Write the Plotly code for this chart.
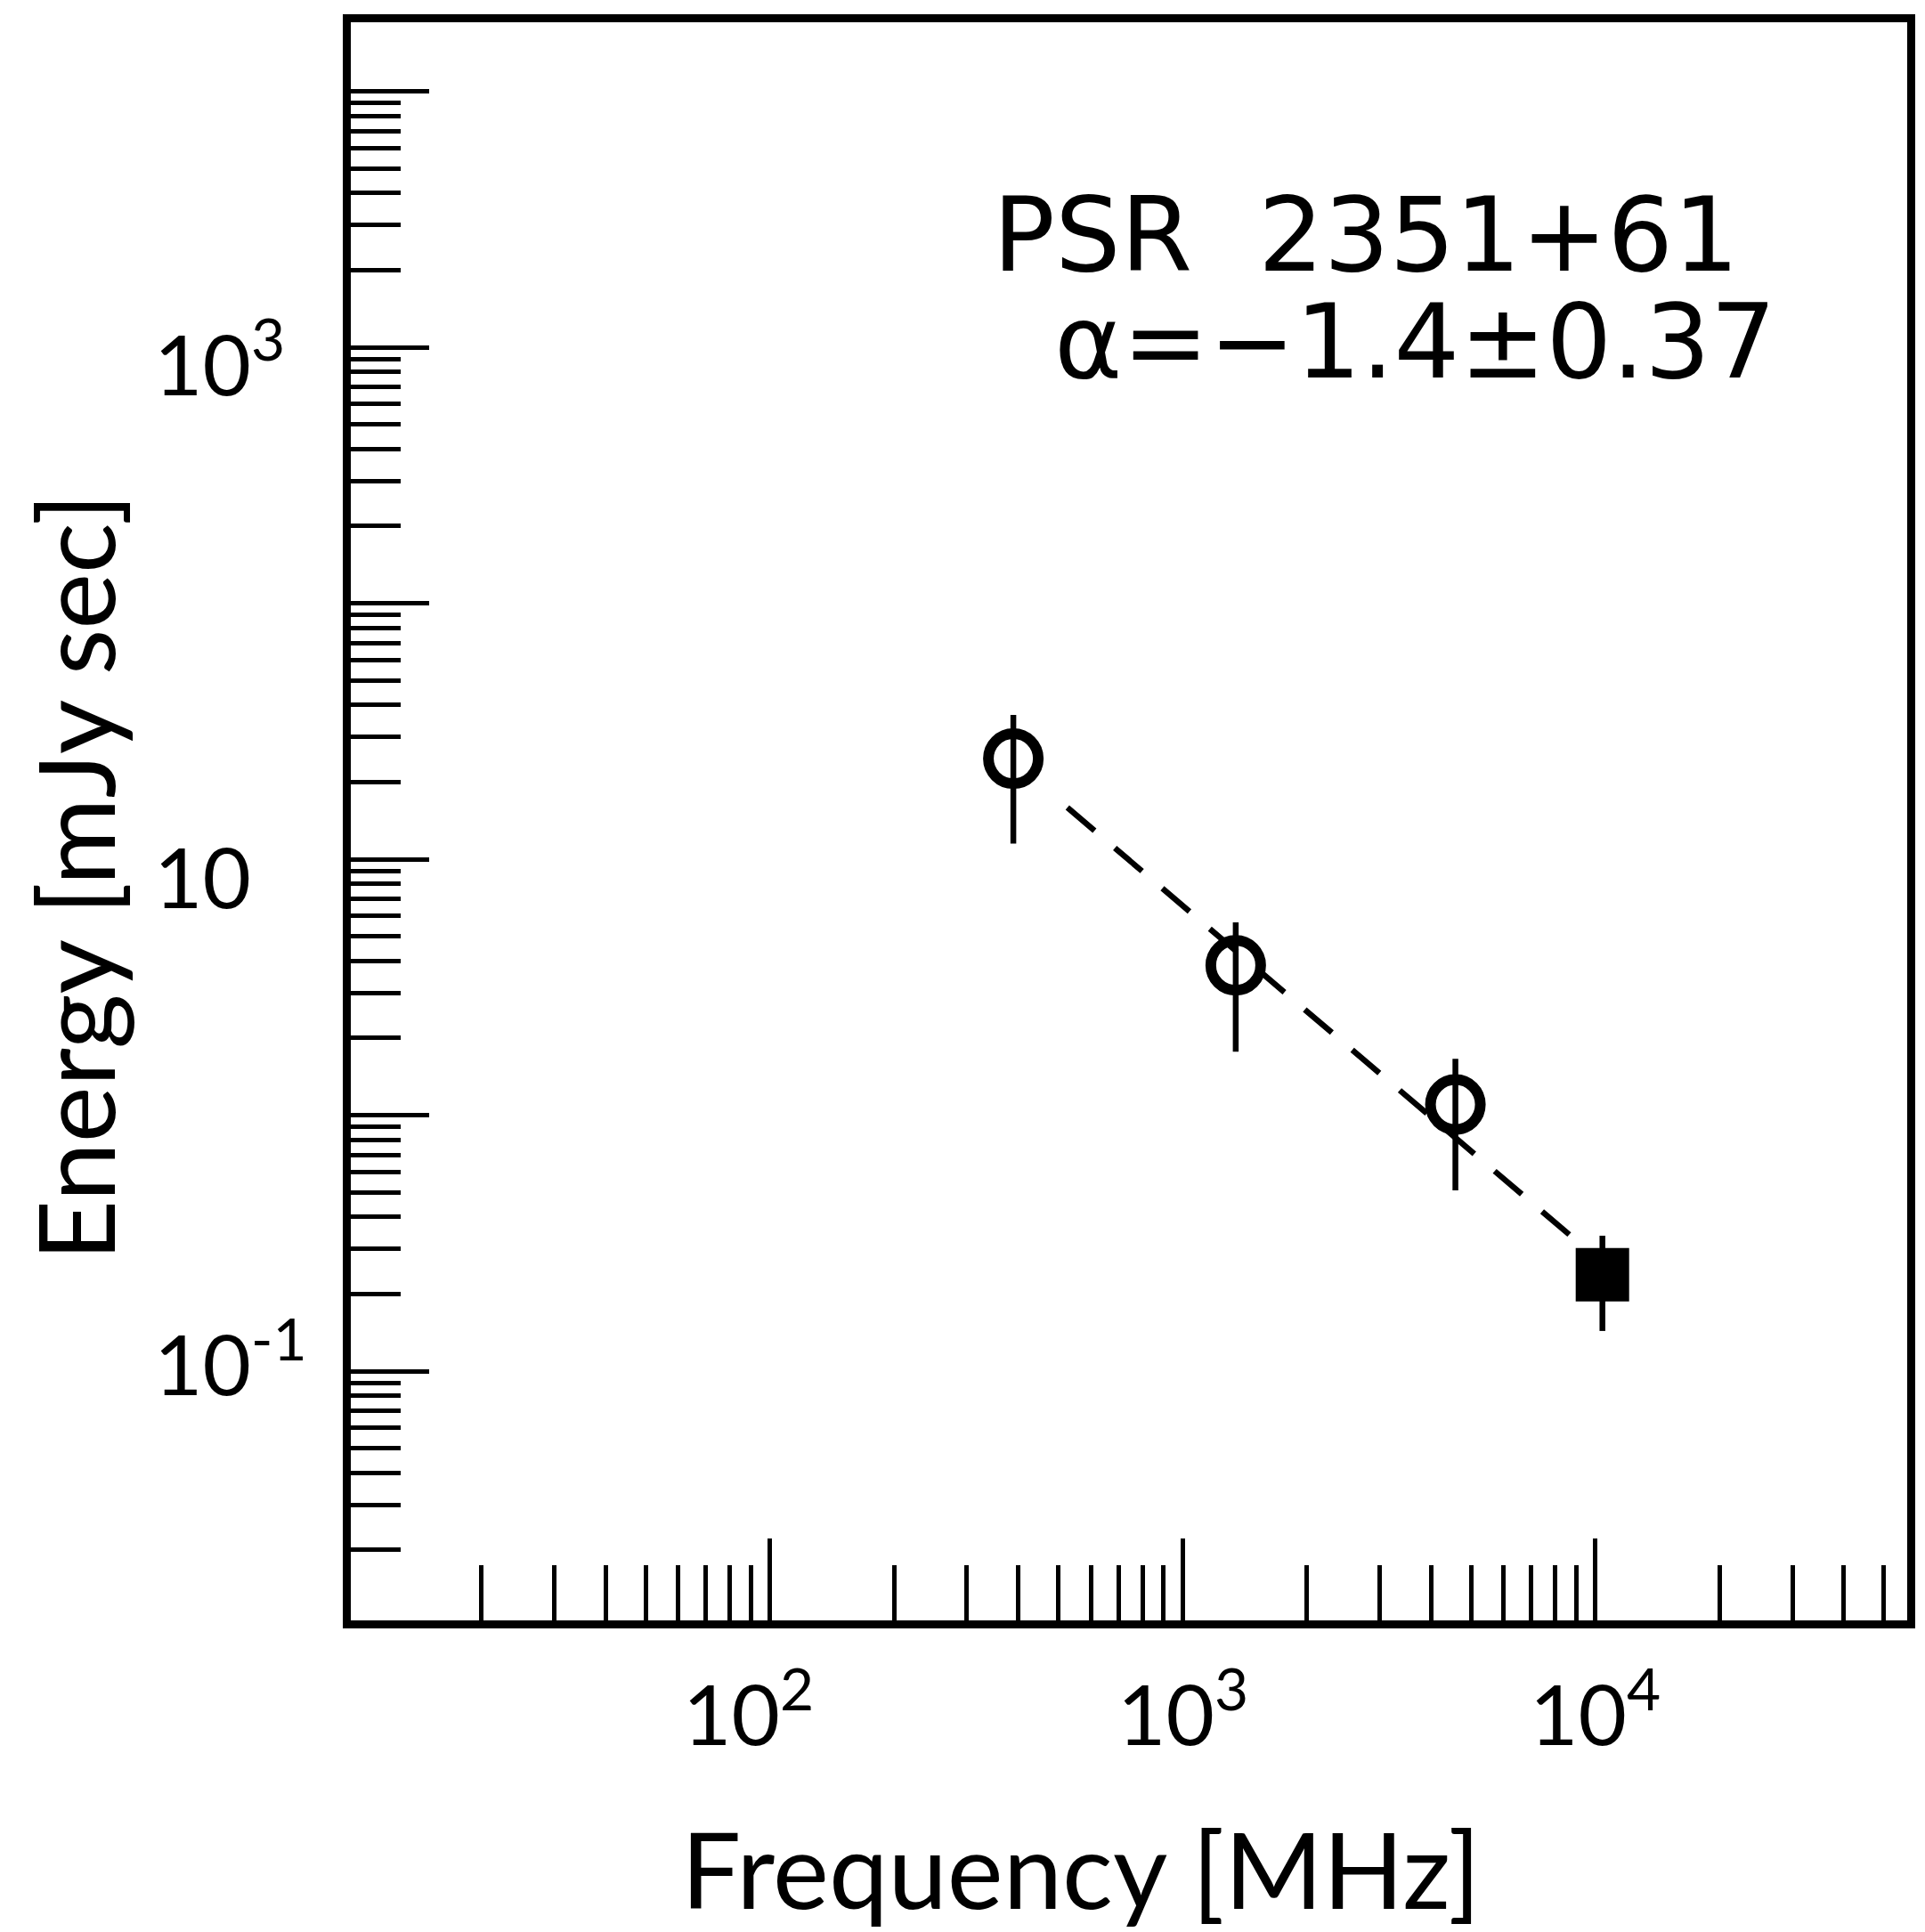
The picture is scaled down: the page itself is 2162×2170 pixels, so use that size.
import numpy as np
import plotly.graph_objects as go

# ---- data ----
freq_mhz = [389, 1345, 4580, 10400]
energy = [24.7, 3.85, 1.10, 0.238]
energy_hi = [36.6, 5.66, 1.66, 0.338]
energy_lo = [11.5, 1.77, 0.508, 0.1435]
filled = [False, False, False, True]

fit_freq = [526, 9340]
fit_energy = [15.9, 0.307]

x_tick_vals = [1e2, 1e3, 1e4]
x_tick_text = ["10<sup>2</sup>", "10<sup>3</sup>", "10<sup>4</sup>"]
y_tick_vals = [1e3, 1e1, 1e-1]
y_tick_text = ["10<sup>3</sup>", "10", "10<sup>-1</sup>"]

label_lines = ["PSR  2351+61", "α=−1.4±0.37"]
x_title = "Frequency [MHz]"
y_title = "Energy [mJy sec]"

# ---- figure ----
W, H = 2162, 2170
ML, MR, MT, MB = 394, 11, 25, 350
PW, PH = W - ML - MR, H - MT - MB

# pixel positions of the decades
X_DEC2_PX, X_PX_PER_DEC = 867, 466
Y_DEC3_PX, Y_PX_PER_DEC = 390, 287.5

x_range = [2 - (X_DEC2_PX - ML) / X_PX_PER_DEC, 2 + (W - MR - X_DEC2_PX) / X_PX_PER_DEC]
y_range = [3 - (H - MB - Y_DEC3_PX) / Y_PX_PER_DEC, 3 + (Y_DEC3_PX - MT) / Y_PX_PER_DEC]


def px_x(p):
    return (p - ML) / PW


def px_y(p):
    return (H - MB - p) / PH


fig = go.Figure()

fig.add_trace(go.Scatter(
    x=fit_freq, y=fit_energy, mode="lines",
    line=dict(color="black", width=6.5, dash="40px,30px"),
    hoverinfo="skip"))

open_idx = [i for i, f in enumerate(filled) if not f]
fill_idx = [i for i, f in enumerate(filled) if f]


def sub(lst, idx):
    return [lst[i] for i in idx]


for idx, sym, size, lw in [(open_idx, "circle-open", 56, 12), (fill_idx, "square", 54, 6)]:
    xs = sub(freq_mhz, idx)
    ys = sub(energy, idx)
    up = [h - v for h, v in zip(sub(energy_hi, idx), ys)]
    dn = [v - l for l, v in zip(sub(energy_lo, idx), ys)]
    fig.add_trace(go.Scatter(
        x=xs, y=ys, mode="markers",
        marker=dict(symbol=sym, size=size, color="black",
                    line=dict(width=lw, color="black")),
        error_y=dict(type="data", symmetric=False, array=up, arrayminus=dn,
                     thickness=6.5, width=0, color="black")))

decades_x = [1e2, 1e3, 1e4]
decades_y = [1e-1, 1e0, 1e1, 1e2, 1e3, 1e4]
minor_x = [d * k for d in [1e1, 1e2, 1e3, 1e4] for k in range(2, 10)]
minor_y = [d * k for d in [1e-2, 1e-1, 1e0, 1e1, 1e2, 1e3] for k in range(2, 10)]

axis_common = dict(
    type="log", showline=True, linewidth=9, linecolor="black", mirror=True,
    ticks="inside", tickwidth=5, tickcolor="black", showticklabels=False,
    showgrid=False, zeroline=False)

fig.update_xaxes(range=x_range, tickmode="array", tickvals=decades_x,
                 ticklen=92,
                 minor=dict(ticks="inside", ticklen=62, tickwidth=5,
                            tickcolor="black", tickmode="array",
                            tickvals=minor_x, showgrid=False),
                 **axis_common)
fig.update_yaxes(range=y_range, tickmode="array", tickvals=decades_y,
                 ticklen=88,
                 minor=dict(ticks="inside", ticklen=56, tickwidth=5,
                            tickcolor="black", tickmode="array",
                            tickvals=minor_y, showgrid=False),
                 **axis_common)

font_main = "Lato"
y_label_shift = [-12, -18, 15]
x_label_shift = [-24, 0, 0]
ann = []
for v, t, s in zip(x_tick_vals, x_tick_text, x_label_shift):
    ann.append(dict(x=np.log10(v), xref="x", y=px_y(1918), yref="paper",
                    text=t, showarrow=False, xanchor="center", yanchor="middle",
                    xshift=s,
                    font=dict(family=font_main, size=94, color="black")))
for v, t, s in zip(y_tick_vals, y_tick_text, y_label_shift):
    ann.append(dict(x=px_x(170), xref="paper", y=np.log10(v), yref="y",
                    text=t, showarrow=False, xanchor="left", yanchor="middle",
                    yshift=s,
                    font=dict(family=font_main, size=94, color="black")))
ann.append(dict(x=px_x(1218), xref="paper", y=px_y(2098), yref="paper",
                text=x_title, showarrow=False, xanchor="center", yanchor="middle",
                font=dict(family=font_main, size=119, color="black")))
ann.append(dict(x=px_x(81), xref="paper", y=px_y(986), yref="paper",
                text=y_title, showarrow=False, xanchor="center", yanchor="middle",
                textangle=-90,
                font=dict(family=font_main, size=119, color="black")))
ann.append(dict(x=px_x(1540), xref="paper", y=px_y(264), yref="paper",
                text=label_lines[0], showarrow=False, xanchor="center", yanchor="middle",
                font=dict(family="DejaVu Sans", size=116, color="black")))
ann.append(dict(x=px_x(1596), xref="paper", y=px_y(384), yref="paper",
                text=label_lines[1], showarrow=False, xanchor="center", yanchor="middle",
                font=dict(family="DejaVu Sans", size=116, color="black")))

fig.update_layout(
    width=W, height=H, margin=dict(l=ML, r=MR, t=MT, b=MB, pad=0),
    paper_bgcolor="white", plot_bgcolor="white", showlegend=False,
    annotations=ann)

fig.write_html("out.html")
